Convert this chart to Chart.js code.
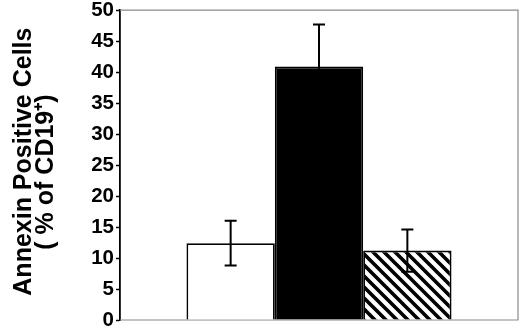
<!DOCTYPE html>
<html>
<head>
  <meta charset="utf-8">
  <title>Annexin Positive Cells</title>
  <script src="https://cdn.jsdelivr.net/npm/chart.js"></script>
  <style>
    html, body { margin: 0; padding: 0; background: #fff; }
    #wrap { width: 520px; height: 332px; position: relative; }
  </style>
</head>
<body>
  <div id="wrap"><canvas id="chart-annexin"></canvas></div>

  <script>
    // values
    const categories = [''];
    const groups = ['Group 1', 'Group 2', 'Group 3'];
    const means = [12.4, 40.9, 11.2];
    const errors = [3.6, 6.8, 3.4];
    const yTicks = [0, 5, 10, 15, 20, 25, 30, 35, 40, 45, 50];

    function hatchPattern() {
      const s = 11;
      const c = document.createElement('canvas');
      c.width = s; c.height = s;
      const g = c.getContext('2d');
      g.fillStyle = '#fff';
      g.fillRect(0, 0, s, s);
      g.strokeStyle = '#000';
      g.lineWidth = 3.6;
      g.beginPath();
      g.moveTo(-2, -2); g.lineTo(s + 2, s + 2);
      g.moveTo(-2, s - 2); g.lineTo(2, s + 2);
      g.moveTo(s - 2, -2); g.lineTo(s + 2, 2);
      g.stroke();
      return g.createPattern(c, 'repeat');
    }

    const fills = ['#ffffff', '#000000', hatchPattern()];

    // gray frame round the plot
    const framePlugin = {
      id: 'frame',
      beforeDatasetsDraw(chart) {
        const a = chart.chartArea, ctx = chart.ctx;
        ctx.save();
        ctx.strokeStyle = '#8a8a8a';
        ctx.lineWidth = 1.2;
        ctx.beginPath();
        ctx.moveTo(a.left, a.top); ctx.lineTo(a.right, a.top);
        ctx.lineTo(a.right, a.bottom); ctx.lineTo(a.left, a.bottom);
        ctx.stroke();
        ctx.restore();
      }
    };

    // error bars drawn from the data through the y scale
    const errorBarPlugin = {
      id: 'errorBars',
      afterDatasetsDraw(chart) {
        const ctx = chart.ctx, y = chart.scales.y;
        ctx.save();
        ctx.strokeStyle = '#000';
        ctx.lineWidth = 2;
        chart.data.datasets.forEach((ds, i) => {
          const bar = chart.getDatasetMeta(i).data[0];
          const x = bar.x;
          const hi = y.getPixelForValue(means[i] + errors[i]);
          const lo = y.getPixelForValue(means[i] - errors[i]);
          ctx.beginPath();
          ctx.moveTo(x, hi); ctx.lineTo(x, lo);
          ctx.moveTo(x - 6, hi); ctx.lineTo(x + 6, hi);
          ctx.moveTo(x - 6, lo); ctx.lineTo(x + 6, lo);
          ctx.stroke();
        });
        ctx.restore();
      }
    };

    new Chart(document.getElementById('chart-annexin').getContext('2d'), {
      type: 'bar',
      data: {
        labels: categories,
        datasets: groups.map((g, i) => ({
          label: g,
          data: [means[i]],
          backgroundColor: fills[i],
          borderColor: '#000',
          borderWidth: 1.8,
          borderSkipped: 'bottom',
          categoryPercentage: 0.666,
          barPercentage: 1
        }))
      },
      options: {
        responsive: true,
        maintainAspectRatio: false,
        animation: false,
        layout: { padding: { top: 8, right: 2, bottom: 12, left: 0 } },
        plugins: {
          legend: { display: false },
          tooltip: { enabled: false }
        },
        scales: {
          x: { display: false },
          y: {
            min: 0,
            max: 50,
            afterBuildTicks: s => { s.ticks = yTicks.map(v => ({ value: v })); },
            afterFit: s => { s.width = 120; },
            ticks: {
              color: '#000',
              padding: 2,
              font: { family: 'Liberation Sans, Arial, sans-serif', size: 20.5, weight: 'bold', lineHeight: 0.8 }
            },
            grid: { drawOnChartArea: false, tickLength: 4, tickColor: '#000', tickWidth: 1.5 },
            border: { color: '#000', width: 1.8 },
            title: {
              display: true,
              text: [' Annexin Positive Cells', '( % of CD19\u207A)  '],
              color: '#000',
              padding: { top: 13, bottom: 0 },
              font: { family: 'Liberation Sans, Arial, sans-serif', size: 25, weight: 'bold', lineHeight: 0.88 }
            }
          }
        }
      },
      plugins: [framePlugin, errorBarPlugin]
    });
  </script>
</body>
</html>
